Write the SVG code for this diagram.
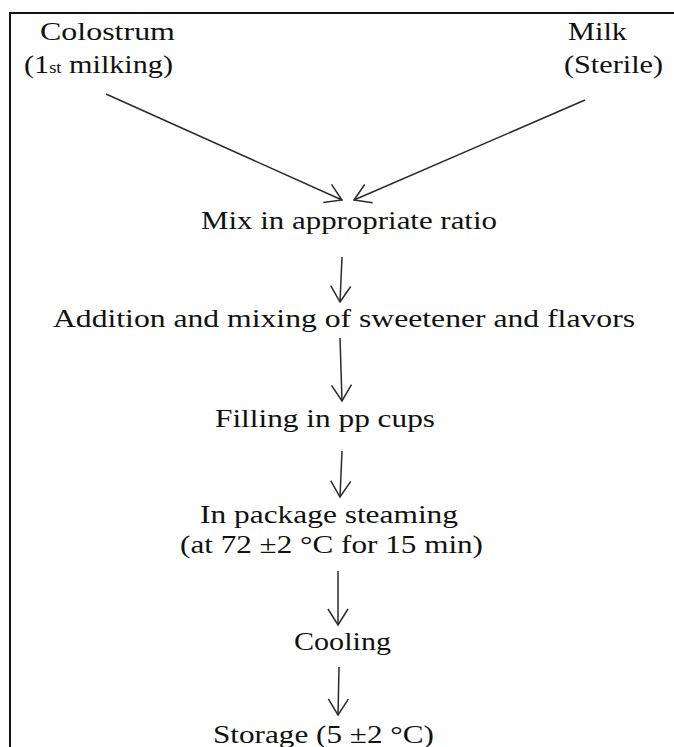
<svg xmlns="http://www.w3.org/2000/svg" width="674" height="747" viewBox="0 0 674 747">
<style>
  text { font-family: "Liberation Serif", "Times New Roman", serif; font-size: 26px; fill: #111; }
  .edge { stroke: #2a2a2a; stroke-width: 1.5; fill: none; marker-end: url(#arr); }
  .frame { stroke: #111; stroke-width: 2; fill: none; }
</style>
<defs>
  <marker id="arr" markerUnits="userSpaceOnUse" markerWidth="18" markerHeight="22" viewBox="0 0 18 22" refX="17" refY="11" orient="auto">
    <path d="M1,1 L17,11 L1,21" fill="none" stroke="#2a2a2a" stroke-width="1.5"/>
  </marker>
</defs>
<rect width="674" height="747" fill="#fff"/>
<path class="frame" d="M10,760 L10,13 L680,13"/>

<g id="colostrum">
  <text x="40" y="40" textLength="135" lengthAdjust="spacingAndGlyphs">Colostrum</text>
  <text x="24" y="73" textLength="149" lengthAdjust="spacingAndGlyphs">(1<tspan font-size="16">st</tspan> milking)</text>
</g>
<g id="milk">
  <text x="568" y="40" textLength="59" lengthAdjust="spacingAndGlyphs">Milk</text>
  <text x="564" y="73" textLength="99" lengthAdjust="spacingAndGlyphs">(Sterile)</text>
</g>
<g id="mix">
  <text x="201" y="229" textLength="296" lengthAdjust="spacingAndGlyphs">Mix in appropriate ratio</text>
</g>
<g id="addition">
  <text x="53" y="327" textLength="582" lengthAdjust="spacingAndGlyphs">Addition and mixing of sweetener and flavors</text>
</g>
<g id="filling">
  <text x="215" y="427" textLength="220" lengthAdjust="spacingAndGlyphs">Filling in pp cups</text>
</g>
<g id="steaming">
  <text x="200" y="523" textLength="258" lengthAdjust="spacingAndGlyphs">In package steaming</text>
  <text x="180" y="553" textLength="303" lengthAdjust="spacingAndGlyphs">(at 72 ±2 °C for 15 min)</text>
</g>
<g id="cooling">
  <text x="294" y="650" textLength="97" lengthAdjust="spacingAndGlyphs">Cooling</text>
</g>
<g id="storage">
  <text x="213" y="743" textLength="221" lengthAdjust="spacingAndGlyphs">Storage (5 ±2 °C)</text>
</g>

<g id="connectors">
  <line class="edge" x1="106" y1="94" x2="342" y2="200"/>
  <line class="edge" x1="585" y1="100" x2="354" y2="200"/>
  <line class="edge" x1="342" y1="257" x2="340" y2="302"/>
  <line class="edge" x1="340" y1="338" x2="342" y2="401"/>
  <line class="edge" x1="342" y1="451" x2="340" y2="497"/>
  <line class="edge" x1="338" y1="571" x2="338" y2="625"/>
  <line class="edge" x1="339" y1="667" x2="338" y2="715"/>
</g>
</svg>
